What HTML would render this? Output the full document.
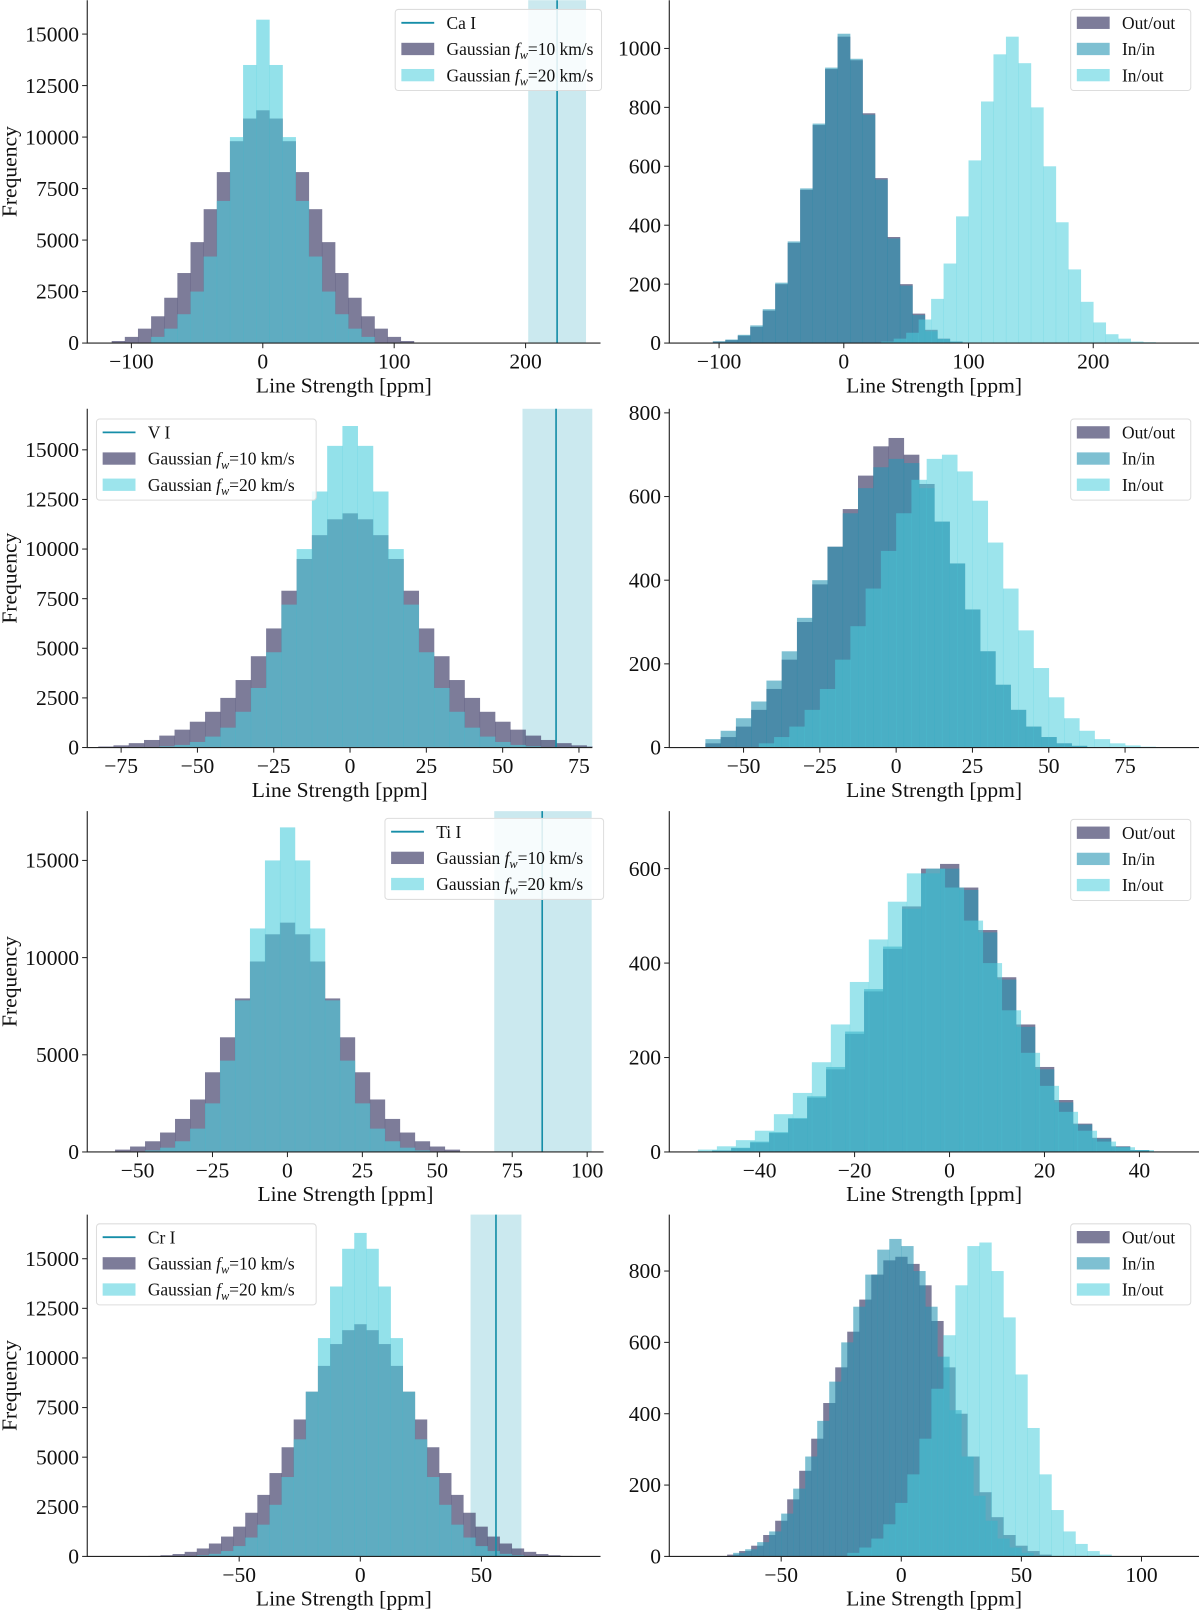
<!DOCTYPE html>
<html><head><meta charset="utf-8"><style>
html,body{margin:0;padding:0;background:#fff}
svg{display:block}
text{font-family:"Liberation Serif","DejaVu Serif",serif;fill:#111}
</style></head><body>
<svg id="fig" width="1200" height="1610" viewBox="0 0 1169 1568" xmlns="http://www.w3.org/2000/svg"></svg>
<script>
// ---- data (bin start, bin width, counts) ----
const caG10Start=-115, caG10W=10;
const caG10=[100,300,700,1300,2200,3400,4900,6500,8300,9800,10900,11300,10900,9800,8300,6500,4900,3400,2200,1300,700,300,100];
const caG20Start=-85, caG20W=10;
const caG20=[300,700,1400,2500,4200,6900,10000,13500,15700,13500,10000,6900,4200,2500,1400,700,300];
const caOOStart=-105, caW=10;
const caOO=[5,10,25,55,110,200,340,520,740,930,1040,960,780,560,360,200,100,45,15,5];
const caII=[6,12,28,60,115,205,345,525,745,935,1050,965,775,555,355,195,95,40,14,5];
const caIOStart=30;
const caIO=[5,15,35,80,150,270,430,620,820,980,1040,950,800,600,410,250,140,70,30,15,5,3];

const vG10Start=-82.5, vW=5;
const vG10=[50,110,220,380,600,900,1300,1800,2500,3400,4600,6000,7900,9500,10700,11500,11800,11500,10700,9500,7900,6000,4600,3400,2500,1800,1300,900,600,380,220,110,50];
const vG20Start=-62.5;
const vG20=[60,130,280,550,1000,1800,3000,4800,7200,10000,12900,15200,16200,15200,12900,10000,7200,4800,3000,1800,1000,550,280,130,60];
const vOOStart=-62.5;
const vOO=[10,25,50,90,140,210,300,390,480,570,650,720,740,700,630,540,440,330,230,150,90,50,25,10,4];
const vII=[20,40,70,110,160,230,310,400,480,560,620,670,690,680,620,540,440,330,230,150,90,50,25,10,4];
const vIOStart=-45;
const vIO=[10,25,50,90,140,210,290,380,470,560,640,690,700,660,590,490,380,280,190,120,70,40,20,10,5,2];

const tiG10Start=-57.5, tiW=5;
const tiG10=[120,280,550,1000,1700,2700,4100,5900,7900,9800,11200,11800,11200,9800,7900,5900,4100,2700,1700,1000,550,280,120];
const tiG20Start=-47.5;
const tiG20=[80,220,550,1200,2500,4700,7800,11500,15000,16700,15000,11500,7800,4700,2500,1200,550,220,80];
const tiOOStart=-50, tiRW=4;
const tiOO=[3,8,20,40,70,115,175,250,340,430,520,600,610,560,470,370,270,180,110,60,30,12,4];
const tiII=[3,9,22,42,72,118,180,255,345,435,515,590,600,555,465,365,265,175,105,58,28,11,4];
const tiIOStart=-53;
const tiIO=[5,12,25,45,80,125,190,270,360,450,530,590,600,560,490,400,300,210,140,85,45,22,10,4];

const crG10Start=-87.5, crW=5;
const crG10=[25,60,120,230,400,650,1000,1500,2200,3100,4200,5500,6900,8300,9600,10700,11400,11700,11400,10700,9600,8300,6900,5500,4200,3100,2200,1500,1000,650,400,230,120,60,25];
const crG20Start=-67.5;
const crG20=[60,130,270,520,950,1600,2600,4000,5900,8300,11000,13600,15500,16300,15500,13600,11000,8300,5900,4000,2600,1600,950,520,270,130,60];
const crOOStart=-72.5;
const crOO=[5,15,30,60,100,160,240,330,430,530,630,720,790,830,840,820,760,660,530,400,280,180,110,60,30,15,5];
const crIIStart=-70;
const crII=[10,20,40,70,120,190,280,380,490,600,700,790,860,890,870,800,700,560,410,280,170,100,50,25,10];
const crIOStart=-22.5;
const crIO=[10,25,50,90,150,230,330,470,620,760,870,880,800,670,510,360,230,130,70,35,15,5];

const C_PUR='#46456e', C_CYAN='#4bcddc', C_ININ='#2896b4';
const NS='http://www.w3.org/2000/svg';
const svg=document.getElementById('fig');
function mk(tag,attrs,parent){const e=document.createElementNS(NS,tag);for(const k in attrs)e.setAttribute(k,attrs[k]);(parent||svg).appendChild(e);return e;}

function panel(cfg){
  const g=mk('g',{});
  
  
  const sx=v=>cfg.xp0+(v)*(cfg.xp1-cfg.xp0)/cfg.xv1;
  const sy=v=>cfg.yp0-(v)*(cfg.yp0-cfg.yp1)/cfg.yv1;
  const L=cfg.left,R=cfg.right,B=cfg.yp0,T=cfg.top;
  if(cfg.band){
    const b=mk('rect',{x:sx(cfg.band[0]),y:T,width:Math.min(sx(cfg.band[1]),R)-sx(cfg.band[0]),height:B-T,fill:'#a8dbe5','fill-opacity':0.6},g);
    
    
  }
  cfg.series.forEach(s=>{
    const sg=mk('g',{fill:s.color,'fill-opacity':s.op},g);
    
    
    s.values.forEach((v,i)=>{
      let a=s.start+i*s.w, b2=a+s.w;
      let x0=Math.max(sx(a),L), x1=Math.min(sx(b2),R);
      if(x1<=x0) return;
      const r=mk('rect',{x:x0,y:sy(v),width:x1-x0+0.3,height:B-sy(v)},sg);
      
      
    });
  });
  if(cfg.line!==undefined){
    const l=mk('line',{x1:sx(cfg.line),x2:sx(cfg.line),y1:T,y2:B,stroke:'#168ea8','stroke-width':1.6},g);
    
    
  }
  const ax=mk('path',{d:`M${L},${T}V${B}H${R}`,stroke:'#222','stroke-width':1.1,fill:'none'},g);
  
  
  cfg.xticks.forEach(t=>{
    const x=sx(t);
    mk('line',{x1:x,x2:x,y1:B,y2:B+5,stroke:'#222'},g);
    const tx=mk('text',{x:x,y:B+25,'text-anchor':'middle','font-size':21},g);
    tx.textContent=(t<0?'\u2212'+(-t):''+t);
    
    
  });
  cfg.yticks.forEach(t=>{
    const y=sy(t);
    mk('line',{x1:L-5,x2:L,y1:y,y2:y,stroke:'#222'},g);
    const tx=mk('text',{x:L-8,y:y+7,'text-anchor':'end','font-size':21},g);
    tx.textContent=''+t;
    
    
  });
  const xl=mk('text',{x:(L+R)/2,y:B+48,'text-anchor':'middle','font-size':21},g);
  xl.textContent='Line Strength [ppm]';
  
  
  if(cfg.ylabel){
    const cy=(T+B)/2;
    const yl=mk('text',{x:0,y:0,'text-anchor':'middle','font-size':21,transform:`translate(16,${cy}) rotate(-90)`},g);
    yl.textContent='Frequency';
    
    
  }
  const lg=mk('g',{},g);
  
  
  const [lx,ly,lw]=cfg.legend;
  mk('rect',{x:lx,y:ly,width:lw,height:79,rx:3,fill:'#fff','fill-opacity':0.85,stroke:'#ddd'},lg);
  cfg.legItems.forEach((it,i)=>{
    const cy=ly+13+i*25.5;
    if(it.type==='line'){
      const l=mk('line',{x1:lx+6,x2:lx+38,y1:cy,y2:cy,stroke:'#168ea8','stroke-width':1.8},lg);
      
      
    } else {
      const r=mk('rect',{x:lx+6,y:cy-6,width:32,height:12,fill:it.color,'fill-opacity':it.op},lg);
      
      
    }
    const t=mk('text',{x:lx+50,y:cy+6,'font-size':17},lg);
    t.innerHTML=it.label;
    
    
  });
}
const gl=(n)=>`Gaussian <tspan font-style="italic">f</tspan><tspan font-size="12" font-style="italic" dy="4">w</tspan><tspan dy="-4">=${n} km/s</tspan>`;
function leftLeg(el){return [{type:'line',label:el},{color:C_PUR,op:0.7,label:gl(10)},{color:C_CYAN,op:0.55,label:gl(20)}];}
const rightLeg=[{color:C_PUR,op:0.7,label:'Out/out'},{color:C_ININ,op:0.6,label:'In/in'},{color:C_CYAN,op:0.55,label:'In/out'}];
function lser(s10,w,d10,s20,d20){return [{name:'gaussian-10-series',start:s10,w:w,values:d10,color:C_PUR,op:0.7},{name:'gaussian-20-series',start:s20,w:w,values:d20,color:C_CYAN,op:0.6}];}
function rser(so,w,doo,si,dii,sio,dio){return [{name:'out-out-series',start:so,w:w,values:doo,color:C_PUR,op:0.7},{name:'in-in-series',start:si,w:w,values:dii,color:C_ININ,op:0.6},{name:'in-out-series',start:sio,w:w,values:dio,color:C_CYAN,op:0.55}];}

panel({name:'ca-gaussian-panel',left:85,right:585,top:0,xp0:256,xv1:200,xp1:512,yp0:334,yv1:15000,yp1:33,
 xticks:[-100,0,100,200],yticks:[0,2500,5000,7500,10000,12500,15000],ylabel:true,
 series:lser(caG10Start,caG10W,caG10,caG20Start,caG20),band:[202,246],line:224,legend:[385,9,201],legItems:leftLeg('Ca I')});
panel({name:'ca-config-panel',left:652,right:1168,top:0,xp0:822,xv1:200,xp1:1065,yp0:334,yv1:1000,yp1:47,
 xticks:[-100,0,100,200],yticks:[0,200,400,600,800,1000],
 series:rser(caOOStart,caW,caOO,caOOStart,caII,caIOStart,caIO),legend:[1043,9,117],legItems:rightLeg});
panel({name:'v-gaussian-panel',left:85,right:577,top:398,xp0:341,xv1:75,xp1:564,yp0:728,yv1:15000,yp1:438,
 xticks:[-75,-50,-25,0,25,50,75],yticks:[0,2500,5000,7500,10000,12500,15000],ylabel:true,
 series:lser(vG10Start,vW,vG10,vG20Start,vG20),band:[56.5,80],line:67.5,legend:[94,408,214],legItems:leftLeg('V I')});
panel({name:'v-config-panel',left:652,right:1168,top:398,xp0:873,xv1:75,xp1:1096,yp0:728,yv1:800,yp1:402,
 xticks:[-50,-25,0,25,50,75],yticks:[0,200,400,600,800],
 series:rser(vOOStart,vW,vOO,vOOStart,vII,vIOStart,vIO),legend:[1043,408,117],legItems:rightLeg});
panel({name:'ti-gaussian-panel',left:85,right:588,top:790,xp0:280,xv1:100,xp1:572,yp0:1122,yv1:15000,yp1:838,
 xticks:[-50,-25,0,25,50,75,100],yticks:[0,5000,10000,15000],ylabel:true,
 series:lser(tiG10Start,tiW,tiG10,tiG20Start,tiG20),band:[69,101.5],line:85,legend:[375,797,213],legItems:leftLeg('Ti I')});
panel({name:'ti-config-panel',left:652,right:1168,top:790,xp0:925,xv1:40,xp1:1110,yp0:1122,yv1:600,yp1:846,
 xticks:[-40,-20,0,20,40],yticks:[0,200,400,600],
 series:rser(tiOOStart,tiRW,tiOO,tiOOStart,tiII,tiIOStart,tiIO),legend:[1043,798,117],legItems:rightLeg});
panel({name:'cr-gaussian-panel',left:85,right:585,top:1183,xp0:351,xv1:50,xp1:469,yp0:1516,yv1:15000,yp1:1226,
 xticks:[-50,0,50],yticks:[0,2500,5000,7500,10000,12500,15000],ylabel:true,
 series:lser(crG10Start,crW,crG10,crG20Start,crG20),band:[45.5,66.5],line:56,legend:[94,1192,214],legItems:leftLeg('Cr I')});
panel({name:'cr-config-panel',left:652,right:1168,top:1183,xp0:878,xv1:50,xp1:995,yp0:1516,yv1:800,yp1:1238,
 xticks:[-50,0,50,100],yticks:[0,200,400,600,800],
 series:rser(crOOStart,crW,crOO,crIIStart,crII,crIOStart,crIO),legend:[1043,1192,117],legItems:rightLeg});
</script>
</body></html>
